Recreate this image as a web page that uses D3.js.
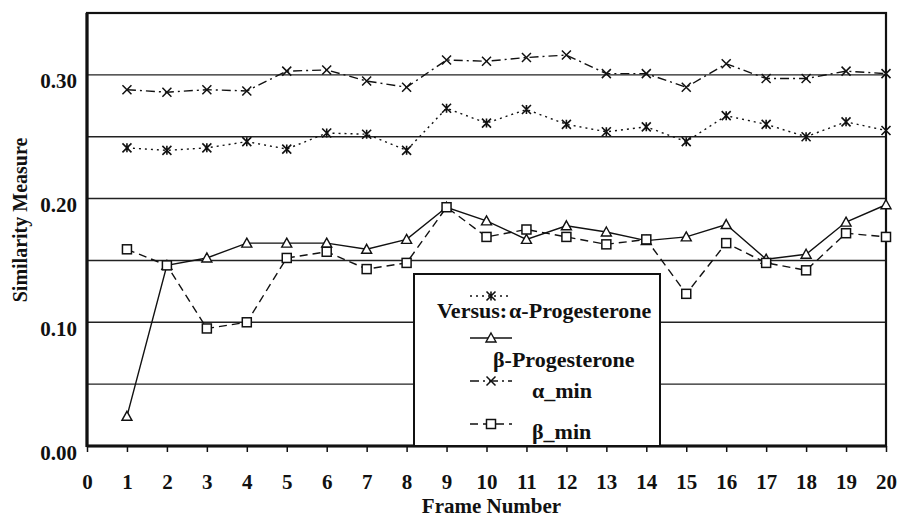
<!DOCTYPE html>
<html>
<head>
<meta charset="utf-8">
<script src="https://cdn.jsdelivr.net/npm/d3@7"></script>
<style>
  body { margin: 0; background: #fff; }
  svg { display: block; }
</style>
</head>
<body>
<svg id="chart" width="897" height="514"></svg>
<script>
// data
const frames = d3.range(1, 21)
const alphaProg = [0.241, 0.239, 0.241, 0.246, 0.240, 0.253, 0.252, 0.239, 0.273, 0.261,
                   0.272, 0.260, 0.254, 0.258, 0.246, 0.267, 0.260, 0.250, 0.262, 0.255]
const betaProg = [0.024, 0.146, 0.152, 0.164, 0.164, 0.164, 0.159, 0.167, 0.193, 0.182,
                  0.167, 0.178, 0.173, 0.166, 0.169, 0.179, 0.151, 0.155, 0.181, 0.195]
const alphaMin = [0.288, 0.286, 0.288, 0.287, 0.303, 0.304, 0.295, 0.290, 0.312, 0.311,
                  0.314, 0.316, 0.301, 0.301, 0.290, 0.309, 0.297, 0.297, 0.303, 0.301]
const betaMin = [0.159, 0.146, 0.095, 0.100, 0.152, 0.157, 0.143, 0.148, 0.193, 0.169,
                 0.175, 0.169, 0.163, 0.167, 0.123, 0.164, 0.148, 0.142, 0.172, 0.169]
const yTicks = [0, 0.10, 0.20, 0.30]
const gridValues = [0.05, 0.10, 0.15, 0.20, 0.25, 0.30]
const xTicks = d3.range(0, 21)

const series = [
  {name: 'α-Progesterone', values: alphaProg, dash: '2,4', marker: 'asterisk'},
  {name: 'β-Progesterone', values: betaProg, dash: null, marker: 'triangle'},
  {name: 'α_min', values: alphaMin, dash: '9,4,2,4', marker: 'cross'},
  {name: 'β_min', values: betaMin, dash: '8,5', marker: 'square'}
]

let svg = d3.select('#chart')
let plotL = 87, plotR = 886, plotT = 13, plotB = 446

let x = d3.scaleLinear().domain([0, 20]).range([plotL, plotR])
let y = d3.scaleLinear().domain([0, 0.35]).range([plotB, plotT])

// gridlines
svg.append('g')
  .selectAll('line')
  .data(gridValues)
  .enter().append('line')
    .attr('x1', plotL).attr('x2', plotR)
    .attr('y1', d => y(d)).attr('y2', d => y(d))
    .attr('stroke', '#222').attr('stroke-width', 1.4)

// frame
svg.append('rect')
  .attr('x', plotL).attr('y', plotT)
  .attr('width', plotR - plotL).attr('height', plotB - plotT)
  .attr('fill', 'none').attr('stroke', '#111').attr('stroke-width', 2.2)
svg.append('line')
  .attr('x1', plotL).attr('x2', plotL).attr('y1', plotT).attr('y2', plotB + 1)
  .attr('stroke', '#111').attr('stroke-width', 3.2)
svg.append('line')
  .attr('x1', plotL).attr('x2', plotR).attr('y1', plotB).attr('y2', plotB)
  .attr('stroke', '#111').attr('stroke-width', 3.2)

// x axis
let xAxis = d3.axisBottom(x).tickValues(xTicks).tickSize(6).tickPadding(22).tickFormat(d3.format('d'))
let gx = svg.append('g').attr('transform', 'translate(0,' + plotB + ')').call(xAxis)
gx.select('.domain').remove()
gx.selectAll('line').attr('stroke', '#111').attr('stroke-width', 1.5)
gx.selectAll('text').style('font-size', '21px')

// y axis
let yAxis = d3.axisLeft(y).tickValues(yTicks).tickSize(0).tickPadding(10).tickFormat(d3.format('.2f'))
let gy = svg.append('g').attr('transform', 'translate(' + plotL + ',0)').call(yAxis)
gy.select('.domain').remove()
gy.selectAll('text').style('font-size', '21px').attr('dy', '0.62em')

// axis titles
svg.append('text')
  .attr('x', (plotL + plotR) / 2 + 5).attr('y', 513)
  .attr('text-anchor', 'middle').style('font-size', '21px')
  .text('Frame Number')
svg.append('text')
  .attr('transform', 'translate(27,220) rotate(-90)')
  .attr('text-anchor', 'middle').style('font-size', '20px')
  .text('Similarity Measure')

function drawMarker (g, type, cx, cy) {
  let s = 4.5
  if (type === 'asterisk') {
    g.append('path')
      .attr('d', `M${cx - s},${cy - s}L${cx + s},${cy + s}M${cx - s},${cy + s}L${cx + s},${cy - s}M${cx},${cy - s}L${cx},${cy + s}`)
      .attr('stroke', '#111').attr('stroke-width', 1.6).attr('fill', 'none')
  } else if (type === 'cross') {
    g.append('path')
      .attr('d', `M${cx - s},${cy - s}L${cx + s},${cy + s}M${cx - s},${cy + s}L${cx + s},${cy - s}`)
      .attr('stroke', '#111').attr('stroke-width', 1.5).attr('fill', 'none')
  } else if (type === 'triangle') {
    g.append('path')
      .attr('d', `M${cx},${cy - 5}L${cx + 5},${cy + 4}L${cx - 5},${cy + 4}Z`)
      .attr('stroke', '#111').attr('stroke-width', 1.4).attr('fill', '#fff')
  } else if (type === 'square') {
    g.append('rect')
      .attr('x', cx - 4.5).attr('y', cy - 4.5).attr('width', 9).attr('height', 9)
      .attr('stroke', '#111').attr('stroke-width', 1.5).attr('fill', '#fff')
  }
}

let line = d3.line().x((d, i) => x(frames[i])).y(d => y(d))

series.forEach(s => {
  let g = svg.append('g')
  g.append('path')
    .datum(s.values)
    .attr('d', line)
    .attr('fill', 'none').attr('stroke', '#111').attr('stroke-width', 1.4)
    .attr('stroke-dasharray', s.dash)
  s.values.forEach((v, i) => drawMarker(g, s.marker, x(frames[i]), y(v)))
})

// legend
let lg = svg.append('g')
lg.append('rect')
  .attr('x', 414).attr('y', 274).attr('width', 246).attr('height', plotB - 274)
  .attr('fill', '#fff').attr('stroke', '#111').attr('stroke-width', 2)

let legendRows = [
  {sy: 296, ty: 318, tx: 437},
  {sy: 338, ty: 367, tx: 493},
  {sy: 381, ty: 398, tx: 532},
  {sy: 424, ty: 439, tx: 532}
]
series.forEach((s, i) => {
  let r = legendRows[i]
  lg.append('line')
    .attr('x1', 470).attr('x2', 512).attr('y1', r.sy).attr('y2', r.sy)
    .attr('stroke', '#111').attr('stroke-width', 1.4).attr('stroke-dasharray', s.dash)
  drawMarker(lg, s.marker, 491, r.sy)
  let t = lg.append('text').attr('x', r.tx).attr('y', r.ty).style('font-size', '22px')
  if (i === 0) {
    t.append('tspan').text('Versus:')
    t.append('tspan').attr('dx', 2).text(s.name)
  } else {
    t.text(s.name)
  }
})

// serif bold for every text, set inline
svg.selectAll('text')
  .style('font-family', '"Liberation Serif", "Times New Roman", serif')
  .style('font-weight', 'bold')
  .attr('fill', '#111')
</script>
</body>
</html>
